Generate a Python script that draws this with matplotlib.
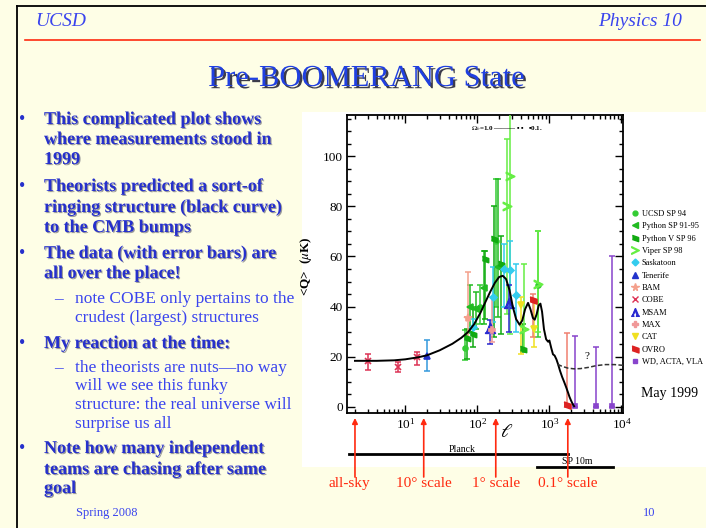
import matplotlib
matplotlib.use('Agg')
import matplotlib.pyplot as plt
import matplotlib.patheffects as pe
from matplotlib.lines import Line2D
from matplotlib.patches import Rectangle

W, H = 706, 528
plt.rcParams['font.family'] = ['Liberation Serif', 'DejaVu Serif', 'DejaVu Sans']
plt.rcParams['mathtext.fontset'] = 'stix'

# theory: Omega_b = 1.0 (solid) and the 0.1 tail (dashed)
model_l = [2, 4, 7, 10, 15, 20, 30, 45, 60, 75, 90, 110, 130, 150, 175, 200, 225,
           250, 280, 310, 345, 385, 420, 460, 505, 545, 590, 625, 665, 710, 750,
           790, 840, 900, 960, 1000, 1060, 1120, 1180, 1250, 1320, 1400, 1500,
           1600, 1700, 1800, 1900, 2000, 2100, 2200]
model_q = [18.4, 18.4, 18.6, 19.0, 19.8, 20.6, 22.6, 25.2, 27.6, 30.0, 33.0, 37.5,
           42.0, 45.8, 49.5, 51.8, 52.3, 51.0, 46.5, 40.0, 35.0, 32.8, 34.5, 39.0,
           41.5, 39.0, 35.5, 34.8, 37.0, 40.5, 41.2, 38.0, 31.0, 27.0, 26.0, 26.5,
           23.5, 21.0, 20.5, 19.0, 17.0, 14.5, 12.0, 10.0, 8.0, 6.0, 4.0, 2.5, 1.2, 0.3]
open_l = [1300, 1500, 1800, 2200, 2700, 3500, 4500, 6000, 8000, 10500]
open_q = [17.0, 16.2, 15.5, 15.2, 15.3, 15.8, 16.5, 16.9, 16.9, 16.6]

# band powers: ell, Q, lower end, upper end
ucsd_l, ucsd_q = [68, 108, 182, 690], [23.5, 40.0, 66.0, 48.5]
ucsd_lo, ucsd_hi = [18.9, 33.0, 40.0, 28.0], [30.8, 48.5, 91.0, 70.0]
python_l, python_q = [80, 96, 122, 196], [40.0, 39.0, 47.5, 56.0]
python_lo, python_hi = [29.5, 31.0, 33.0, 36.0], [48.5, 46.0, 62.0, 91.0]
pyv_l, pyv_q = [72, 88, 128, 168, 215, 430], [27.5, 29.0, 59.0, 67.0, 57.0, 23.0]
pyv_lo, pyv_hi = [19.0, 24.0, 35.0, 28.0, 29.0, 22.0], [31.0, 40.0, 62.0, 80.0, 68.0, 33.0]
viper_l, viper_q = [255, 285, 440, 700], [80.0, 92.0, 31.0, 49.0]
viper_lo, viper_hi = [37.0, 29.0, 23.0, 30.0], [107.0, 118.0, 57.0, 70.0]
sask_l, sask_q = [87, 166, 237, 286, 349], [32.0, 44.0, 55.0, 54.5, 44.7]
sask_lo, sask_hi = [29.0, 34.0, 40.0, 40.0, 30.0], [35.0, 56.0, 65.0, 66.0, 57.0]
ten_l, ten_q, ten_lo, ten_hi = [20], [20.3], [14.2], [26.8]
bam_l, bam_q, bam_lo, bam_hi = [74], [35.5], [27.0], [54.0]
cobe_l, cobe_q = [3, 8, 14.5], [18.2, 15.9, 19.9]
cobe_lo, cobe_hi = [14.9, 13.8, 16.9], [21.2, 17.9, 21.8]
msam_l, msam_q, msam_lo, msam_hi = [148, 275], [31.5, 41.4], [25.0, 30.0], [34.5, 48.7]
max_l, max_q, max_lo, max_hi = [160], [30.8], [26.0], [44.0]
cat_l, cat_q, cat_lo, cat_hi = [400, 610], [40.5, 31.0], [21.0, 24.0], [44.0, 42.0]
ovro_l, ovro_q, ovro_lo, ovro_hi = [590, 1750], [42.5, 0.8], [28.0, 0.0], [45.0, 29.5]
wd_l, wd_q = [2250, 4500, 7500], [0.3, 0.3, 0.3]
wd_lo, wd_hi = [0.0, 0.0, 0.0], [28.4, 24.1, 60.3]

flag = [(-1, 1), (1, 0.3), (1, -1), (-1, -0.3)]
series = [
    ('UCSD SP 94', ucsd_l, ucsd_q, ucsd_lo, ucsd_hi, 'o', '#33cc33', None, 3.5),
    ('Python SP 91-95', python_l, python_q, python_lo, python_hi, '<', '#22bb22', None, 4),
    ('Python V SP 96', pyv_l, pyv_q, pyv_lo, pyv_hi, flag, '#11aa11', None, 4.5),
    ('Viper SP 98', viper_l, viper_q, viper_lo, viper_hi, '$>$', '#66ee44', None, 6),
    ('Saskatoon', sask_l, sask_q, sask_lo, sask_hi, 'D', '#33ccee', None, 3.5),
    ('Tenerife', ten_l, ten_q, ten_lo, ten_hi, '^', '#2233cc', '#3399dd', 4.5),
    ('BAM', bam_l, bam_q, bam_lo, bam_hi, '*', '#f4a08c', None, 6),
    ('COBE', cobe_l, cobe_q, cobe_lo, cobe_hi, 'x', '#dd3355', None, 4),
    ('MSAM', msam_l, msam_q, msam_lo, msam_hi, r'$\Lambda$', '#2a2ad0', None, 7),
    ('MAX', max_l, max_q, max_lo, max_hi, 'P', '#f09898', None, 4.5),
    ('CAT', cat_l, cat_q, cat_lo, cat_hi, 'v', '#f0e020', None, 4),
    ('OVRO', ovro_l, ovro_q, ovro_lo, ovro_hi, flag, '#dd2222', '#f08070', 5),
    ('WD, ACTA, VLA', wd_l, wd_q, wd_lo, wd_hi, 's', '#8844cc', None, 3.5),
]

# scale arrows under the axis
arrow_l = [2, 18, 180, 1800]
arrow_txt = ['all-sky', '10\u00b0 scale', '1\u00b0 scale', '0.1\u00b0 scale']

bullets = [
    ('b', 124, 'This complicated plot shows'),
    ('c', 144, 'where measurements stood in'),
    ('c', 164, '1999'),
    ('b', 191, 'Theorists predicted a sort-of'),
    ('c', 212, 'ringing structure (black curve)'),
    ('c', 232, 'to the CMB bumps'),
    ('b', 258, 'The data (with error bars) are'),
    ('c', 278, 'all over the place!'),
    ('s', 303, 'note COBE only pertains to the'),
    ('t', 322, 'crudest (largest) structures'),
    ('b', 348, 'My reaction at the time:'),
    ('s', 372, 'the theorists are nuts\u2014no way'),
    ('t', 390, 'will we see this funky'),
    ('t', 409, 'structure: the real universe will'),
    ('t', 428, 'surprise us all'),
    ('b', 453, 'Note how many independent'),
    ('c', 474, 'teams are chasing after same'),
    ('c', 493, 'goal'),
]


def fx(x):
    return x / W


def fy(y):
    return 1 - y / H


cream = '#fefee6'
blue = '#2630cc'
light_blue = '#3a44ee'
red = '#ff2a10'

fig = plt.figure(figsize=(W / 100, H / 100), dpi=100, facecolor=cream)

# slide frame, header and title
fig.add_artist(Line2D([fx(17), fx(17)], [fy(6), 0], color='k', lw=1.3))
fig.add_artist(Line2D([fx(17), 1], [fy(6), fy(6)], color='k', lw=1.3))
fig.add_artist(Line2D([fx(25), fx(700)], [fy(40), fy(40)], color=red, lw=1.2))
fig.text(fx(35), fy(26), 'UCSD', color=light_blue, fontsize=14, style='italic')
fig.text(fx(682), fy(26), 'Physics 10', color=light_blue, fontsize=14,
         style='italic', ha='right')
shadow = [pe.SimplePatchShadow(offset=(1.6, -1.6), shadow_rgbFace='#1a1a30', alpha=0.85),
          pe.Normal()]
fig.text(fx(366), fy(86), 'Pre-BOOMERANG State', color='#2040e0', fontsize=22,
         ha='center', va='baseline', path_effects=shadow)

soft = [pe.SimplePatchShadow(offset=(0.8, -0.8), shadow_rgbFace='#20203a', alpha=0.45),
        pe.Normal()]
for kind, y, txt in bullets:
    if kind in 'bc':
        if kind == 'b':
            fig.text(fx(19), fy(y), '\u2022', color=blue, fontsize=13, va='baseline')
        fig.text(fx(44), fy(y), txt, color=blue, fontsize=13, fontweight='bold',
                 va='baseline', path_effects=soft)
    else:
        if kind == 's':
            fig.text(fx(54), fy(y), '\u2013', color=light_blue, fontsize=12.5, va='baseline')
        fig.text(fx(75), fy(y), txt, color=light_blue, fontsize=12.5, va='baseline')

fig.text(fx(76), fy(516), 'Spring 2008', color=light_blue, fontsize=9, va='baseline')
fig.text(fx(649), fy(516), '10', color=light_blue, fontsize=9, va='baseline', ha='center')

# white panel behind the plot
fig.add_artist(Rectangle((fx(302), fy(467)), (W - 302) / W, (467 - 112) / H,
                         transform=fig.transFigure, facecolor='white',
                         edgecolor='none', zorder=-1))

ax = fig.add_axes([fx(347), fy(413), (623 - 347) / W, (413 - 115) / H])
ax.set_xscale('log')
ax.set_xlim(1.55, 10500)
ax.set_ylim(-2.4, 116.4)

ax.plot(model_l, model_q, color='k', lw=1.4, zorder=5)
ax.plot(open_l, open_q, color='#333333', lw=1.1, ls=(0, (3, 1.5)), zorder=5)

for name, l, q, lo, hi, mk, col, ecol, ms in series:
    yerr = [[a - b for a, b in zip(q, lo)], [b - a for a, b in zip(q, hi)]]
    ax.errorbar(l, q, yerr=yerr, fmt='none', ecolor=ecol or col, elinewidth=1.1,
                capsize=2.2, capthick=1.1, zorder=3)
    ax.plot(l, q, ls='none', marker=mk, color=col, ms=ms, mew=1.2, zorder=4)

ax.text(3300, 18.2, '?', fontsize=8, ha='center', va='bottom')
ax.text(0.45, 0.955, '$\\Omega_b$=1.0 \u2014\u2014\u2014 \u25aa \u25aa   \u25aa0.1.',
        transform=ax.transAxes, fontsize=5, fontweight='bold', ha='left', va='center')

ax.set_yticks([0, 20, 40, 60, 80, 100])
ax.set_yticks(range(5, 116, 5), minor=True)
ax.tick_params(which='both', direction='in', top=True, right=True, labelsize=9.5,
               width=1.0, pad=3)
ax.tick_params(which='major', length=6)
ax.tick_params(which='minor', length=3)
for s in ax.spines.values():
    s.set_linewidth(1.3)

ax.set_ylabel(r'<Q>  ($\mu$K)', fontsize=9.5, fontweight='bold')
ax.yaxis.set_label_coords(-(347 - 314) / 276, 0.493)
ax.text(0.58, -0.067, r'$\ell$', transform=ax.transAxes, fontsize=14,
        ha='center', va='center')

handles = [Line2D([], [], ls='none', marker=mk, color=col, ms=min(ms, 5.5), mew=1.0)
           for name, l, q, lo, hi, mk, col, ecol, ms in series]
ax.legend(handles, [s[0] for s in series], loc='upper left',
          bbox_to_anchor=(fx(632), fy(210)), bbox_transform=fig.transFigure,
          frameon=False, fontsize=6, handlelength=0.7, handletextpad=0.5,
          labelspacing=0.52, borderpad=0, borderaxespad=0)
fig.text(fx(670), fy(397), 'May 1999', fontsize=10, ha='center', va='baseline')

# Planck and SP 10m coverage bars
xt = ax.get_xaxis_transform()
ax.plot([1.65, 1800], [(413 - 454) / 298] * 2, color='k', lw=2, transform=xt, clip_on=False)
ax.plot([667, 7600], [(413 - 467) / 298] * 2, color='k', lw=2, transform=xt, clip_on=False)
ax.text(62, (413 - 450) / 298, 'Planck', transform=xt, fontsize=7, ha='center', va='center')
ax.text(2470, (413 - 461) / 298, 'SP 10m', transform=xt, fontsize=7, ha='center', va='center')

for l, txt, dx in zip(arrow_l, arrow_txt, [-6, 0, 0, 0]):
    ax.annotate('', xy=(l, fy(418)), xytext=(l, fy(477)),
                xycoords=('data', 'figure fraction'), textcoords=('data', 'figure fraction'),
                arrowprops=dict(arrowstyle='-|>', color=red, lw=1.2, mutation_scale=8,
                                shrinkA=0, shrinkB=0),
                annotation_clip=False)
    ax.annotate(txt, xy=(l, fy(487)), xycoords=('data', 'figure fraction'),
                xytext=(dx, 0), textcoords='offset pixels', ha='center', va='baseline',
                color=red, fontsize=11, annotation_clip=False)

fig.savefig('out.png', dpi=100, facecolor=cream)
